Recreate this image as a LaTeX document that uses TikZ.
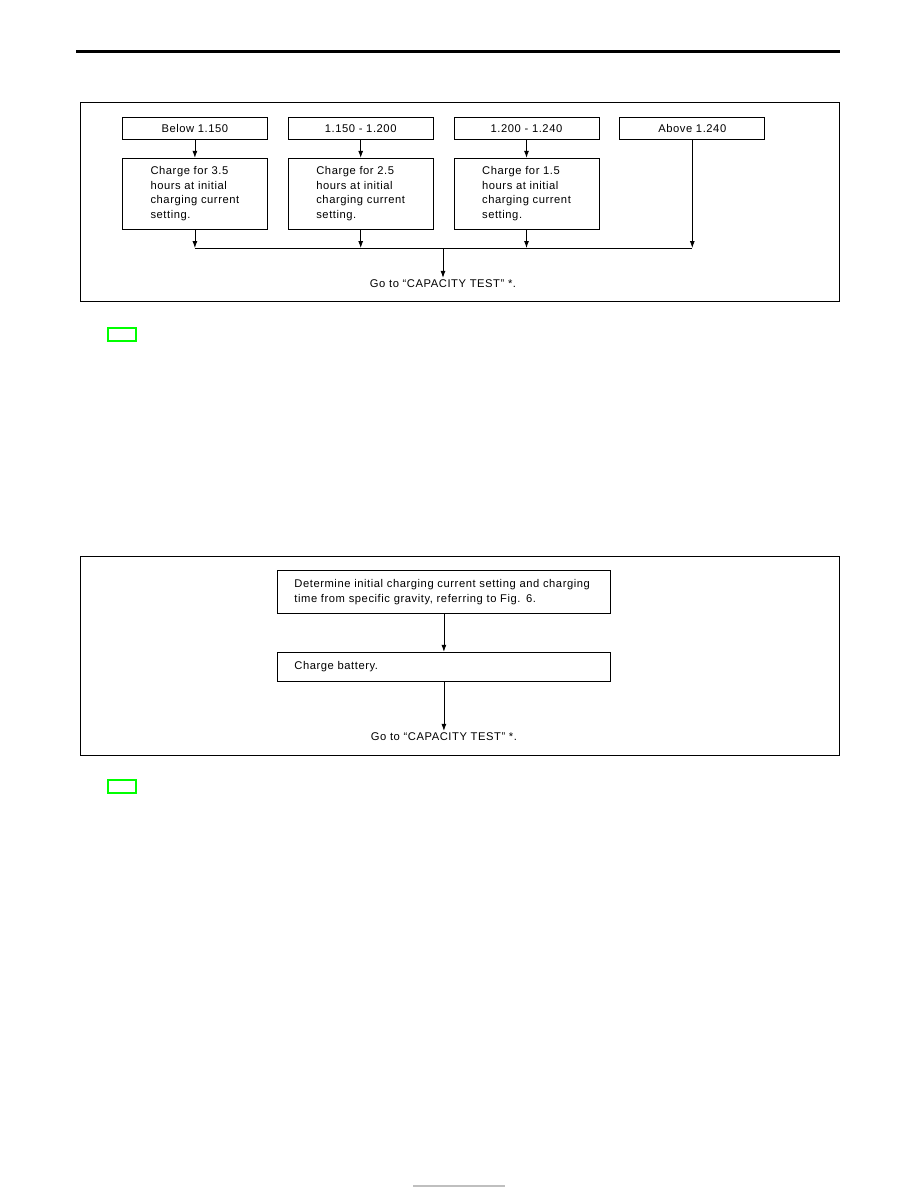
\documentclass[tikz,border=0pt]{standalone}
\usepackage{fontspec}
\setmainfont[LetterSpace=5]{Liberation Sans}
\usetikzlibrary{arrows.meta}
\usetikzlibrary{positioning}

\begin{document}
\begin{tikzpicture}[x=1pt,y=-1pt,
    font=\fontsize{11.2}{14.4}\selectfont,
    box/.style={draw,line width=0.8pt,inner sep=0pt,minimum width=145pt},
    arr/.style={-{Latex[length=7pt,width=5pt]},line width=0.8pt},
    tag/.style={draw=green,line width=1.5pt,inner sep=0pt,minimum width=28pt,minimum height=13pt,anchor=north west}]
    \useasboundingbox (0,0) rectangle (918,1188);

    % header rule and the two frames
    \draw[line width=3pt] (76,52) -- (840,52);
    \node[draw,line width=1pt,minimum width=759pt,minimum height=199pt,anchor=north west] (frameA) at (80,102) {};
    \node[draw,line width=1pt,minimum width=759pt,minimum height=199pt,anchor=north west] (frameB) at (80,556) {};

    % specific gravity ranges
    \node[box,minimum height=22pt,anchor=north west] (below) at (122,117) {Below 1.150};
    \node[box,minimum height=22pt,right=20pt of below] (low) {1.150 - 1.200};
    \node[box,minimum height=22pt,right=20pt of low] (mid) {1.200 - 1.240};
    \node[box,minimum height=22pt,right=20pt of mid] (above) {Above 1.240};

    \node[box,minimum height=71pt,align=left,below=18pt of below] (chgA) {Charge for 3.5\\hours at initial\\charging current\\setting.};
    \node[box,minimum height=71pt,align=left,below=18pt of low] (chgB) {Charge for 2.5\\hours at initial\\charging current\\setting.};
    \node[box,minimum height=71pt,align=left,below=18pt of mid] (chgC) {Charge for 1.5\\hours at initial\\charging current\\setting.};

    \coordinate (bus) at (443,248);
    \node[inner sep=2pt] (goA) at (443,284) {Go to “CAPACITY TEST” *.};

    \draw[arr] (below) -- (chgA);
    \draw[arr] (low) -- (chgB);
    \draw[arr] (mid) -- (chgC);
    \draw[arr] (chgA) -- (chgA |- bus);
    \draw[arr] (chgB) -- (chgB |- bus);
    \draw[arr] (chgC) -- (chgC |- bus);
    \draw[arr] (above) -- (above |- bus);
    \draw[line width=0.8pt] (chgA |- bus) -- (above |- bus);
    \draw[arr] (bus) -- (goA);

    % charging procedure
    \node[box,minimum width=333pt,minimum height=43pt,text width=299pt,inner xsep=17pt,align=left,anchor=north west] (det) at (277,570) {Determine initial charging current setting and charging\\time from specific gravity, referring to Fig. 6.};
    \node[box,minimum width=333pt,minimum height=29pt,text width=299pt,inner xsep=17pt,align=left,below=38pt of det] (charge) {Charge battery.};
    \node[inner sep=2pt] (goB) at (charge |- 0,737) {Go to “CAPACITY TEST” *.};

    \draw[arr] (det) -- (charge);
    \draw[arr] (charge) -- (goB);

    % link markers and footer
    \node[tag] (tagA) at (107,327) {};
    \node[tag] (tagB) at (107,779) {};
    \draw[black!25,line width=1.2pt] (413,1186) -- (505,1186);
\end{tikzpicture}
\end{document}
